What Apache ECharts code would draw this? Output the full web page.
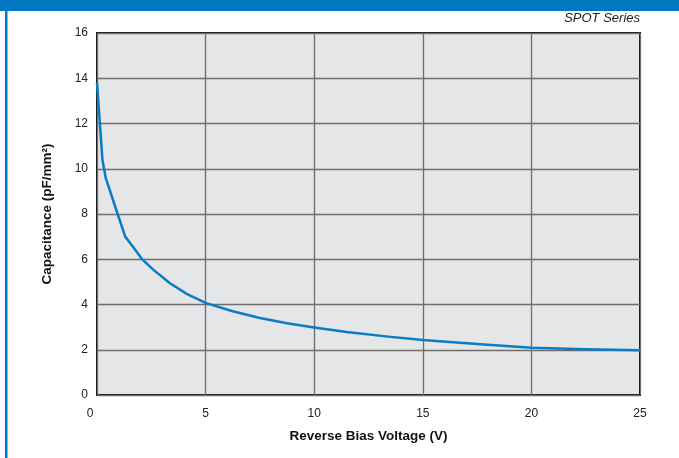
<!DOCTYPE html>
<html><head><meta charset="utf-8">
<script src="https://cdn.jsdelivr.net/npm/echarts@6/dist/echarts.min.js"></script>
<style>html,body{margin:0;padding:0;background:#fff}#c{width:679px;height:458px}</style>
</head><body><div id="c"></div>
<script>
const voltage = [0, 0.14, 0.25, 0.4, 0.95, 1.3, 1.7, 2.06, 2.6, 3.36, 4.13, 5.02, 6.25, 7.5, 8.75, 10, 11.5, 13.4, 15, 17.5, 20, 22.5, 25];
const capacitance = [13.8, 11.9, 10.4, 9.6, 8.0, 7.0, 6.5, 6.02, 5.53, 4.94, 4.47, 4.06, 3.7, 3.4, 3.17, 2.98, 2.78, 2.58, 2.43, 2.25, 2.09, 2.02, 1.98];
const xTicks = [0, 5, 10, 15, 20, 25];
const yTicks = [0, 2, 4, 6, 8, 10, 12, 14, 16];

const chart = echarts.init(document.getElementById('c'));
const font = 'Liberation Sans, Arial, sans-serif';
chart.setOption({
  animation: false,
  backgroundColor: '#fff',
  grid: { left: 97, right: 39, top: 33, bottom: 63, show: true, backgroundColor: '#e5e6e8', borderColor: '#111', borderWidth: 2 },
  graphic: [
    { type: 'rect', shape: { x: 0, y: 0, width: 679, height: 11 }, style: { fill: '#0077c0' } },
    { type: 'rect', shape: { x: 5, y: 0, width: 2.5, height: 458 }, style: { fill: '#0077c0' } },
    { type: 'text', right: 39, top: 12, style: { text: 'SPOT Series', font: 'italic 13px ' + font, fill: '#222' } }
  ],
  xAxis: {
    type: 'value', min: xTicks[0], max: xTicks[xTicks.length - 1], interval: 5,
    name: 'Reverse Bias Voltage (V)', nameLocation: 'middle', nameGap: 34,
    nameTextStyle: { fontFamily: font, fontSize: 13.5, fontWeight: 'bold', color: '#111' },
    axisLine: { show: false }, axisTick: { show: false },
    axisLabel: { margin: 13, fontFamily: font, fontSize: 12, color: '#222',
      formatter: v => v === 0 ? '{a|0}' : String(v),
      rich: { a: { fontFamily: font, fontSize: 12, color: '#222', padding: [0, 14, 0, 0] } } },
    splitLine: { show: true, lineStyle: { color: '#6e6e6e', width: 1.3 } }
  },
  yAxis: {
    type: 'value', min: yTicks[0], max: yTicks[yTicks.length - 1], interval: 2,
    name: 'Capacitance (pF/mm²)', nameLocation: 'middle', nameGap: 43,
    nameTextStyle: { fontFamily: font, fontSize: 13.5, fontWeight: 'bold', color: '#111' },
    axisLine: { show: false }, axisTick: { show: false },
    axisLabel: { margin: 9, fontFamily: font, fontSize: 12, color: '#222' },
    splitLine: { show: true, lineStyle: { color: '#6e6e6e', width: 1.3 } }
  },
  series: [{
    type: 'line', data: voltage.map((v, i) => [v, capacitance[i]]),
    showSymbol: false, smooth: false, lineStyle: { color: '#0a7cc4', width: 2.5, join: 'round' }
  }]
});
</script></body></html>
